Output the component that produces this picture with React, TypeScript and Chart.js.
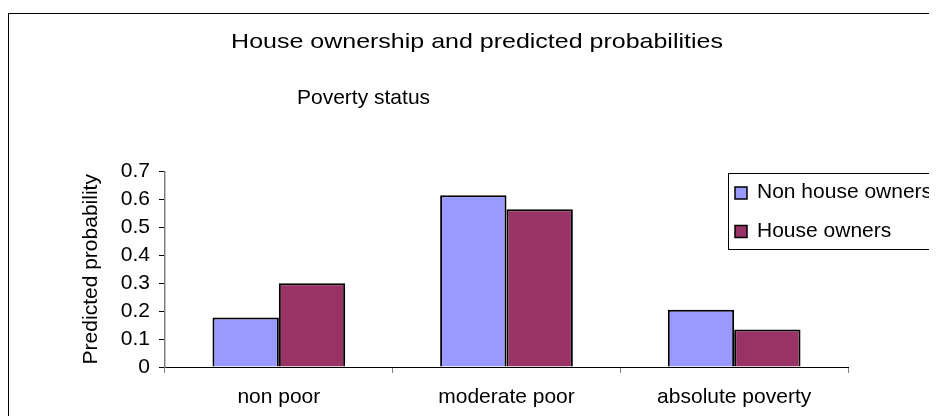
import React, { useEffect, useRef } from "react";
import { Chart, registerables } from "chart.js";

Chart.register(...registerables);

const FONT = "'Liberation Sans', Arial, sans-serif";

const TITLE = "House ownership and predicted probabilities";
const SUBTITLE = "Poverty status";
const Y_TITLE = "Predicted probability";

const categories = ["non poor", "moderate poor", "absolute poverty"];
const nonOwners = [0.177, 0.615, 0.205];
const owners = [0.3, 0.565, 0.134];
const seriesNames = ["Non house owners", "House owners"];
const seriesColors = ["#9999FF", "#993366"];

// Title, the "Poverty status" caption and the boxed legend on the right.
const decorPlugin = {
  id: "decor",
  afterDraw(chart: any) {
    const { ctx, chartArea } = chart;
    ctx.save();
    ctx.fillStyle = "#000";
    ctx.font = `21px ${FONT}`;
    ctx.textBaseline = "alphabetic";

    // main title, drawn slightly widened
    ctx.save();
    ctx.translate(chart.width / 2, 34.3);
    ctx.scale(1.19, 1);
    ctx.textAlign = "center";
    ctx.fillText(TITLE, 0, 0);
    ctx.restore();

    ctx.textAlign = "left";
    ctx.fillText(SUBTITLE, chartArea.left + 132, 90.3);

    // legend box
    const boxLeft = 719.5;
    const boxTop = 159.5;
    ctx.strokeStyle = "#000";
    ctx.lineWidth = 1;
    ctx.strokeRect(boxLeft, boxTop, 320, 76);

    const rows = [
      { swatchY: 173, baseline: 184.3 },
      { swatchY: 211.5, baseline: 223.3 },
    ];
    chart.data.datasets.forEach((ds: any, i: number) => {
      const r = rows[i];
      ctx.fillStyle = ds.backgroundColor;
      ctx.fillRect(726, r.swatchY, 12, 12);
      ctx.lineWidth = 1.5;
      ctx.strokeStyle = "#000";
      ctx.strokeRect(726, r.swatchY, 12, 12);
      ctx.fillStyle = "#000";
      ctx.fillText(ds.label, 748, r.baseline);
    });
    ctx.restore();
  },
};

export default function App() {
  const canvasRef = useRef<HTMLCanvasElement | null>(null);

  useEffect(() => {
    if (!canvasRef.current) return;
    const chart = new Chart(canvasRef.current, {
      type: "bar",
      data: {
        labels: categories,
        datasets: [
          {
            label: seriesNames[0],
            data: nonOwners,
            backgroundColor: seriesColors[0],
            borderColor: "#000",
            borderWidth: 2,
          },
          {
            label: seriesNames[1],
            data: owners,
            backgroundColor: seriesColors[1],
            borderColor: "#000",
            borderWidth: 2,
          },
        ],
      },
      options: {
        animation: false,
        responsive: true,
        maintainAspectRatio: false,
        devicePixelRatio: 1,
        datasets: {
          bar: { categoryPercentage: 0.583, barPercentage: 1 },
        },
        layout: { padding: { top: 157.5, left: 0, right: 97, bottom: 0 } },
        plugins: {
          legend: { display: false },
          title: { display: false },
          tooltip: { enabled: false },
        },
        scales: {
          x: {
            afterFit: (scale: any) => {
              scale.height = 49;
            },
            grid: {
              display: true,
              offset: true,
              drawOnChartArea: false,
              drawTicks: true,
              tickLength: 6,
              color: "#808080",
            },
            border: { display: true, color: "#000", width: 1 },
            ticks: {
              color: "#000",
              font: { family: FONT, size: 21 },
              padding: 12,
              maxRotation: 0,
              autoSkip: false,
            },
          },
          y: {
            min: 0,
            max: 0.7,
            afterFit: (scale: any) => {
              scale.width = 156;
            },
            grid: {
              display: true,
              drawOnChartArea: false,
              drawTicks: true,
              tickLength: 6,
              color: "#000",
            },
            border: { display: true, color: "#808080", width: 1.5 },
            ticks: {
              stepSize: 0.1,
              autoSkip: false,
              color: "#000",
              font: { family: FONT, size: 21 },
              padding: 9,
              callback: (v: any) => String(Math.round(Number(v) * 10) / 10),
            },
            title: {
              display: true,
              text: Y_TITLE,
              color: "#000",
              font: { family: FONT, size: 21 },
              padding: { top: 70, bottom: 0 },
            },
          },
        },
      },
      plugins: [decorPlugin],
    });
    return () => chart.destroy();
  }, []);

  return (
    <div
      style={{
        width: 929,
        height: 408,
        overflow: "hidden",
        paddingTop: 5,
        boxSizing: "border-box",
        background: "#fff",
      }}
    >
      <div
        style={{
          width: 1000,
          height: 500,
          border: "1px solid #000",
          boxSizing: "border-box",
        }}
      >
        <div style={{ position: "relative", width: 936, height: 402 }}>
          <canvas ref={canvasRef} />
        </div>
      </div>
    </div>
  );
}
